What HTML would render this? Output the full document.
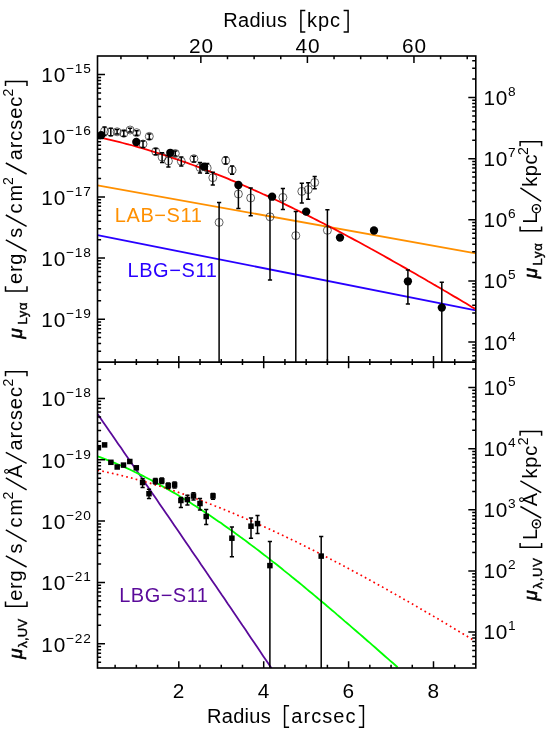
<!DOCTYPE html>
<html><head><meta charset="utf-8"><title>Surface brightness profiles</title>
<style>html,body{margin:0;padding:0;background:#fff}body{width:554px;height:738px;overflow:hidden}</style></head>
<body>
<svg width="554" height="738" viewBox="0 0 554 738" style="display:block;font-family:'Liberation Sans', sans-serif;will-change:transform">
<rect width="554" height="738" fill="#fff"/>
<defs><clipPath id="c1"><rect x="97.5" y="56.0" width="378.3" height="306.1"/></clipPath><clipPath id="c2"><rect x="97.5" y="362.1" width="378.3" height="305.9"/></clipPath></defs>
<g clip-path="url(#c1)" fill="none" stroke-width="1.8">
<line x1="97.5" y1="185.4" x2="475.8" y2="253.3" stroke="#ff9000"/>
<line x1="97.5" y1="235.2" x2="475.8" y2="310.3" stroke="#2800ff"/>
<path d="M97.5,137.0 L100.7,137.6 L103.9,138.4 L107.0,139.1 L110.2,139.8 L113.4,140.6 L116.6,141.4 L119.8,142.2 L122.9,143.0 L126.1,143.8 L129.3,144.7 L132.5,145.5 L135.6,146.4 L138.8,147.3 L142.0,148.2 L145.2,149.2 L148.4,150.1 L151.5,151.1 L154.7,152.1 L157.9,153.1 L161.1,154.1 L164.3,155.1 L167.4,156.1 L170.6,157.2 L173.8,158.3 L177.0,159.4 L180.2,160.5 L183.3,161.6 L186.5,162.7 L189.7,163.9 L192.9,165.0 L196.0,166.2 L199.2,167.4 L202.4,168.6 L205.6,169.8 L208.8,171.1 L211.9,172.3 L215.1,173.6 L218.3,174.8 L221.5,176.1 L224.7,177.4 L227.8,178.7 L231.0,180.1 L234.2,181.4 L237.4,182.7 L240.6,184.1 L243.7,185.5 L246.9,186.9 L250.1,188.3 L253.3,189.7 L256.4,191.1 L259.6,192.5 L262.8,194.0 L266.0,195.4 L269.2,196.9 L272.3,198.3 L275.5,199.8 L278.7,201.3 L281.9,202.8 L285.1,204.4 L288.2,205.9 L291.4,207.4 L294.6,209.0 L297.8,210.5 L301.0,212.1 L304.1,213.7 L307.3,215.3 L310.5,216.9 L313.7,218.5 L316.9,220.1 L320.0,221.7 L323.2,223.3 L326.4,225.0 L329.6,226.6 L332.7,228.3 L335.9,229.9 L339.1,231.6 L342.3,233.3 L345.5,235.0 L348.6,236.7 L351.8,238.4 L355.0,240.1 L358.2,241.8 L361.4,243.5 L364.5,245.3 L367.7,247.0 L370.9,248.8 L374.1,250.5 L377.3,252.3 L380.4,254.0 L383.6,255.8 L386.8,257.6 L390.0,259.4 L393.1,261.2 L396.3,263.0 L399.5,264.8 L402.7,266.6 L405.9,268.4 L409.0,270.2 L412.2,272.0 L415.4,273.8 L418.6,275.7 L421.8,277.5 L424.9,279.3 L428.1,281.2 L431.3,283.0 L434.5,284.9 L437.7,286.7 L440.8,288.6 L444.0,290.5 L447.2,292.3 L450.4,294.2 L453.5,296.1 L456.7,297.9 L459.9,299.8 L463.1,301.7 L466.3,303.6 L469.4,305.5 L472.6,307.4 L475.8,309.2" stroke="#ff0000"/>
</g>
<g clip-path="url(#c1)">
<g stroke="#000" stroke-width="1.5" fill="none">
<line x1="104.5" y1="127" x2="104.5" y2="135.5"/><line x1="102.4" y1="127" x2="106.6" y2="127"/><line x1="102.4" y1="135.5" x2="106.6" y2="135.5"/>
<line x1="110.8" y1="128.3" x2="110.8" y2="135.8"/><line x1="108.7" y1="128.3" x2="112.89999999999999" y2="128.3"/><line x1="108.7" y1="135.8" x2="112.89999999999999" y2="135.8"/>
<line x1="117.1" y1="129.5" x2="117.1" y2="134"/><line x1="115.0" y1="129.5" x2="119.19999999999999" y2="129.5"/><line x1="115.0" y1="134" x2="119.19999999999999" y2="134"/>
<line x1="123.8" y1="130.8" x2="123.8" y2="136.2"/><line x1="121.7" y1="130.8" x2="125.89999999999999" y2="130.8"/><line x1="121.7" y1="136.2" x2="125.89999999999999" y2="136.2"/>
<line x1="130.1" y1="128.3" x2="130.1" y2="132"/><line x1="128.0" y1="128.3" x2="132.2" y2="128.3"/><line x1="128.0" y1="132" x2="132.2" y2="132"/>
<line x1="136.6" y1="130.8" x2="136.6" y2="135.2"/><line x1="134.5" y1="130.8" x2="138.7" y2="130.8"/><line x1="134.5" y1="135.2" x2="138.7" y2="135.2"/>
<line x1="143" y1="140.9" x2="143" y2="147.6"/><line x1="140.9" y1="140.9" x2="145.1" y2="140.9"/><line x1="140.9" y1="147.6" x2="145.1" y2="147.6"/>
<line x1="149.3" y1="134" x2="149.3" y2="139.3"/><line x1="147.20000000000002" y1="134" x2="151.4" y2="134"/><line x1="147.20000000000002" y1="139.3" x2="151.4" y2="139.3"/>
<line x1="155.7" y1="148.5" x2="155.7" y2="154.8"/><line x1="153.6" y1="148.5" x2="157.79999999999998" y2="148.5"/><line x1="153.6" y1="154.8" x2="157.79999999999998" y2="154.8"/>
<line x1="162.1" y1="152.8" x2="162.1" y2="162.4"/><line x1="160.0" y1="152.8" x2="164.2" y2="152.8"/><line x1="160.0" y1="162.4" x2="164.2" y2="162.4"/>
<line x1="168.4" y1="155.3" x2="168.4" y2="167"/><line x1="166.3" y1="155.3" x2="170.5" y2="155.3"/><line x1="166.3" y1="167" x2="170.5" y2="167"/>
<line x1="175.3" y1="151" x2="175.3" y2="156"/><line x1="173.20000000000002" y1="151" x2="177.4" y2="151"/><line x1="173.20000000000002" y1="156" x2="177.4" y2="156"/>
<line x1="181.3" y1="157.1" x2="181.3" y2="166.1"/><line x1="179.20000000000002" y1="157.1" x2="183.4" y2="157.1"/><line x1="179.20000000000002" y1="166.1" x2="183.4" y2="166.1"/>
<line x1="193.9" y1="156.2" x2="193.9" y2="162.1"/><line x1="191.8" y1="156.2" x2="196.0" y2="156.2"/><line x1="191.8" y1="162.1" x2="196.0" y2="162.1"/>
<line x1="200" y1="162.5" x2="200" y2="173"/><line x1="197.9" y1="162.5" x2="202.1" y2="162.5"/><line x1="197.9" y1="173" x2="202.1" y2="173"/>
<line x1="207.2" y1="163.4" x2="207.2" y2="173.3"/><line x1="205.1" y1="163.4" x2="209.29999999999998" y2="163.4"/><line x1="205.1" y1="173.3" x2="209.29999999999998" y2="173.3"/>
<line x1="212.8" y1="172.3" x2="212.8" y2="185"/><line x1="210.70000000000002" y1="172.3" x2="214.9" y2="172.3"/><line x1="210.70000000000002" y1="185" x2="214.9" y2="185"/>
<line x1="219.1" y1="202.6" x2="219.1" y2="362.1"/><line x1="217.0" y1="202.6" x2="221.2" y2="202.6"/>
<line x1="225.7" y1="157.1" x2="225.7" y2="163.9"/><line x1="223.6" y1="157.1" x2="227.79999999999998" y2="157.1"/><line x1="223.6" y1="163.9" x2="227.79999999999998" y2="163.9"/>
<line x1="232.1" y1="166.1" x2="232.1" y2="174.2"/><line x1="230.0" y1="166.1" x2="234.2" y2="166.1"/><line x1="230.0" y1="174.2" x2="234.2" y2="174.2"/>
<line x1="238.4" y1="186" x2="238.4" y2="208.6"/><line x1="236.3" y1="186" x2="240.5" y2="186"/><line x1="236.3" y1="208.6" x2="240.5" y2="208.6"/>
<line x1="250.7" y1="187.9" x2="250.7" y2="215.7"/><line x1="248.6" y1="187.9" x2="252.79999999999998" y2="187.9"/><line x1="248.6" y1="215.7" x2="252.79999999999998" y2="215.7"/>
<line x1="270" y1="196" x2="270" y2="280"/><line x1="267.9" y1="196" x2="272.1" y2="196"/><line x1="267.9" y1="280" x2="272.1" y2="280"/>
<line x1="282.9" y1="188.6" x2="282.9" y2="209.4"/><line x1="280.79999999999995" y1="188.6" x2="285.0" y2="188.6"/><line x1="280.79999999999995" y1="209.4" x2="285.0" y2="209.4"/>
<line x1="295.8" y1="211.4" x2="295.8" y2="362.1"/><line x1="293.7" y1="211.4" x2="297.90000000000003" y2="211.4"/>
<line x1="301.8" y1="183.3" x2="301.8" y2="203.1"/><line x1="299.7" y1="183.3" x2="303.90000000000003" y2="183.3"/><line x1="299.7" y1="203.1" x2="303.90000000000003" y2="203.1"/>
<line x1="308.2" y1="182.8" x2="308.2" y2="199.2"/><line x1="306.09999999999997" y1="182.8" x2="310.3" y2="182.8"/><line x1="306.09999999999997" y1="199.2" x2="310.3" y2="199.2"/>
<line x1="314.7" y1="176.5" x2="314.7" y2="188.8"/><line x1="312.59999999999997" y1="176.5" x2="316.8" y2="176.5"/><line x1="312.59999999999997" y1="188.8" x2="316.8" y2="188.8"/>
<line x1="327.4" y1="209.8" x2="327.4" y2="362.1"/><line x1="325.29999999999995" y1="209.8" x2="329.5" y2="209.8"/>









<line x1="407.9" y1="269.9" x2="407.9" y2="304"/><line x1="405.79999999999995" y1="269.9" x2="410.0" y2="269.9"/><line x1="405.79999999999995" y1="304" x2="410.0" y2="304"/>
<line x1="441.8" y1="282.3" x2="441.8" y2="362.1"/><line x1="439.7" y1="282.3" x2="443.90000000000003" y2="282.3"/>
</g>
<g stroke="#111" stroke-width="0.65" fill="none">
<circle cx="104.5" cy="131.2" r="4.0"/>
<circle cx="110.8" cy="132.1" r="4.0"/>
<circle cx="117.1" cy="131.8" r="4.0"/>
<circle cx="123.8" cy="133.3" r="4.0"/>
<circle cx="130.1" cy="130.0" r="4.0"/>
<circle cx="136.6" cy="132.7" r="4.0"/>
<circle cx="143" cy="144.0" r="4.0"/>
<circle cx="149.3" cy="136.4" r="4.0"/>
<circle cx="155.7" cy="151.5" r="4.0"/>
<circle cx="162.1" cy="157.1" r="4.0"/>
<circle cx="168.4" cy="161" r="4.0"/>
<circle cx="175.3" cy="153.5" r="4.0"/>
<circle cx="181.3" cy="161.3" r="4.0"/>
<circle cx="193.9" cy="158.7" r="4.0"/>
<circle cx="200" cy="167.5" r="4.0"/>
<circle cx="207.2" cy="168" r="4.0"/>
<circle cx="212.8" cy="177.7" r="4.0"/>
<circle cx="219.1" cy="222.4" r="4.0"/>
<circle cx="225.7" cy="160.5" r="4.0"/>
<circle cx="232.1" cy="170" r="4.0"/>
<circle cx="238.4" cy="194" r="4.0"/>
<circle cx="250.7" cy="198" r="4.0"/>
<circle cx="270" cy="216.8" r="4.0"/>
<circle cx="282.9" cy="197.4" r="4.0"/>
<circle cx="295.8" cy="235.6" r="4.0"/>
<circle cx="301.8" cy="191.4" r="4.0"/>
<circle cx="308.2" cy="189.6" r="4.0"/>
<circle cx="314.7" cy="182.5" r="4.0"/>
<circle cx="327.4" cy="230.3" r="4.0"/>
</g><g fill="#000">
<circle cx="101.2" cy="135.2" r="4.15"/>
<circle cx="136.3" cy="142" r="4.15"/>
<circle cx="170.3" cy="152.8" r="4.15"/>
<circle cx="204.1" cy="166.6" r="4.15"/>
<circle cx="238.4" cy="185" r="4.15"/>
<circle cx="272.1" cy="196.7" r="4.15"/>
<circle cx="306.2" cy="211.6" r="4.15"/>
<circle cx="340" cy="237.6" r="4.15"/>
<circle cx="374" cy="230.5" r="4.15"/>
<circle cx="407.9" cy="281.3" r="4.15"/>
<circle cx="441.8" cy="307.6" r="4.15"/>
</g></g>
<g clip-path="url(#c2)" fill="none" stroke-width="1.8">
<path d="M97.5,414.0 L100.5,418.3 L103.4,422.5 L106.4,426.8 L109.3,431.1 L112.3,435.3 L115.2,439.6 L118.2,443.9 L121.2,448.1 L124.1,452.4 L127.1,456.7 L130.0,461.0 L133.0,465.3 L135.9,469.5 L138.9,473.8 L141.9,478.1 L144.8,482.4 L147.8,486.7 L150.7,491.0 L153.7,495.3 L156.7,499.6 L159.6,503.9 L162.6,508.2 L165.5,512.5 L168.5,516.8 L171.4,521.1 L174.4,525.5 L177.4,529.8 L180.3,534.1 L183.3,538.4 L186.2,542.7 L189.2,547.1 L192.1,551.4 L195.1,555.7 L198.1,560.0 L201.0,564.4 L204.0,568.7 L206.9,573.1 L209.9,577.4 L212.8,581.7 L215.8,586.1 L218.8,590.4 L221.7,594.8 L224.7,599.1 L227.6,603.5 L230.6,607.8 L233.6,612.2 L236.5,616.5 L239.5,620.9 L242.4,625.3 L245.4,629.6 L248.3,634.0 L251.3,638.4 L254.3,642.7 L257.2,647.1 L260.2,651.5 L263.1,655.9 L266.1,660.3 L269.0,664.6 L272.0,669.0" stroke="#5a0a9a"/>
<path d="M97.5,456.3 L100.0,457.2 L102.5,458.1 L105.1,459.1 L107.6,460.1 L110.1,461.1 L112.6,462.1 L115.2,463.1 L117.7,464.2 L120.2,465.3 L122.7,466.4 L125.2,467.5 L127.8,468.6 L130.3,469.8 L132.8,471.0 L135.3,472.2 L137.8,473.4 L140.4,474.6 L142.9,475.9 L145.4,477.2 L147.9,478.5 L150.5,479.8 L153.0,481.1 L155.5,482.4 L158.0,483.8 L160.5,485.2 L163.1,486.6 L165.6,488.0 L168.1,489.4 L170.6,490.9 L173.2,492.4 L175.7,493.8 L178.2,495.3 L180.7,496.9 L183.2,498.4 L185.8,499.9 L188.3,501.5 L190.8,503.1 L193.3,504.7 L195.9,506.3 L198.4,507.9 L200.9,509.5 L203.4,511.2 L205.9,512.9 L208.5,514.5 L211.0,516.2 L213.5,517.9 L216.0,519.7 L218.5,521.4 L221.1,523.1 L223.6,524.9 L226.1,526.7 L228.6,528.5 L231.2,530.3 L233.7,532.1 L236.2,533.9 L238.7,535.7 L241.2,537.6 L243.8,539.4 L246.3,541.3 L248.8,543.2 L251.3,545.1 L253.9,547.0 L256.4,548.9 L258.9,550.8 L261.4,552.7 L263.9,554.7 L266.5,556.6 L269.0,558.6 L271.5,560.6 L274.0,562.6 L276.6,564.5 L279.1,566.5 L281.6,568.5 L284.1,570.6 L286.6,572.6 L289.2,574.6 L291.7,576.7 L294.2,578.7 L296.7,580.8 L299.2,582.8 L301.8,584.9 L304.3,587.0 L306.8,589.1 L309.3,591.2 L311.9,593.3 L314.4,595.4 L316.9,597.5 L319.4,599.6 L321.9,601.7 L324.5,603.8 L327.0,606.0 L329.5,608.1 L332.0,610.3 L334.6,612.4 L337.1,614.6 L339.6,616.7 L342.1,618.9 L344.6,621.1 L347.2,623.2 L349.7,625.4 L352.2,627.6 L354.7,629.8 L357.3,632.0 L359.8,634.1 L362.3,636.3 L364.8,638.5 L367.3,640.7 L369.9,642.9 L372.4,645.1 L374.9,647.3 L377.4,649.5 L379.9,651.7 L382.5,654.0 L385.0,656.2 L387.5,658.4 L390.0,660.6 L392.6,662.8 L395.1,665.0 L397.6,667.2" stroke="#00ff00"/>
<path d="M97.5,470.2 L100.7,470.9 L103.9,471.5 L107.0,472.2 L110.2,472.9 L113.4,473.6 L116.6,474.3 L119.8,475.1 L122.9,475.9 L126.1,476.7 L129.3,477.5 L132.5,478.3 L135.7,479.2 L138.8,480.0 L142.0,480.9 L145.2,481.8 L148.4,482.8 L151.6,483.7 L154.8,484.7 L157.9,485.6 L161.1,486.6 L164.3,487.7 L167.5,488.7 L170.7,489.7 L173.8,490.8 L177.0,491.9 L180.2,493.0 L183.4,494.1 L186.6,495.2 L189.7,496.3 L192.9,497.5 L196.1,498.7 L199.3,499.8 L202.5,501.0 L205.6,502.2 L208.8,503.5 L212.0,504.7 L215.2,506.0 L218.4,507.2 L221.5,508.5 L224.7,509.8 L227.9,511.1 L231.1,512.4 L234.3,513.7 L237.4,515.1 L240.6,516.4 L243.8,517.8 L247.0,519.2 L250.2,520.5 L253.4,521.9 L256.5,523.3 L259.7,524.8 L262.9,526.2 L266.1,527.6 L269.3,529.1 L272.4,530.6 L275.6,532.0 L278.8,533.5 L282.0,535.0 L285.2,536.5 L288.3,538.1 L291.5,539.6 L294.7,541.1 L297.9,542.7 L301.1,544.2 L304.2,545.8 L307.4,547.4 L310.6,549.0 L313.8,550.6 L317.0,552.2 L320.1,553.8 L323.3,555.4 L326.5,557.0 L329.7,558.7 L332.9,560.3 L336.1,562.0 L339.2,563.6 L342.4,565.3 L345.6,567.0 L348.8,568.7 L352.0,570.4 L355.1,572.1 L358.3,573.8 L361.5,575.5 L364.7,577.3 L367.9,579.0 L371.0,580.8 L374.2,582.5 L377.4,584.3 L380.6,586.0 L383.8,587.8 L386.9,589.6 L390.1,591.4 L393.3,593.2 L396.5,595.0 L399.7,596.8 L402.8,598.6 L406.0,600.4 L409.2,602.2 L412.4,604.0 L415.6,605.9 L418.7,607.7 L421.9,609.6 L425.1,611.4 L428.3,613.3 L431.5,615.1 L434.7,617.0 L437.8,618.8 L441.0,620.7 L444.2,622.6 L447.4,624.5 L450.6,626.4 L453.7,628.3 L456.9,630.2 L460.1,632.1 L463.3,634.0 L466.5,635.9 L469.6,637.8 L472.8,639.7 L476.0,641.6" stroke="#ff0000" stroke-width="1.7" stroke-dasharray="1.7 3.2"/>
</g>
<g clip-path="url(#c2)">
<g stroke="#000" stroke-width="1.5" fill="none">







<line x1="142.6" y1="478.7" x2="142.6" y2="487.4"/><line x1="140.5" y1="478.7" x2="144.7" y2="478.7"/><line x1="140.5" y1="487.4" x2="144.7" y2="487.4"/>
<line x1="149" y1="489.2" x2="149" y2="498.6"/><line x1="146.9" y1="489.2" x2="151.1" y2="489.2"/><line x1="146.9" y1="498.6" x2="151.1" y2="498.6"/>
<line x1="155.4" y1="478.5" x2="155.4" y2="484"/><line x1="153.3" y1="478.5" x2="157.5" y2="478.5"/><line x1="153.3" y1="484" x2="157.5" y2="484"/>
<line x1="161.8" y1="478" x2="161.8" y2="483.5"/><line x1="159.70000000000002" y1="478" x2="163.9" y2="478"/><line x1="159.70000000000002" y1="483.5" x2="163.9" y2="483.5"/>
<line x1="168.2" y1="483" x2="168.2" y2="488.5"/><line x1="166.1" y1="483" x2="170.29999999999998" y2="483"/><line x1="166.1" y1="488.5" x2="170.29999999999998" y2="488.5"/>
<line x1="174.6" y1="482" x2="174.6" y2="488"/><line x1="172.5" y1="482" x2="176.7" y2="482"/><line x1="172.5" y1="488" x2="176.7" y2="488"/>
<line x1="180.9" y1="497.6" x2="180.9" y2="507.4"/><line x1="178.8" y1="497.6" x2="183.0" y2="497.6"/><line x1="178.8" y1="507.4" x2="183.0" y2="507.4"/>
<line x1="187.4" y1="495.3" x2="187.4" y2="505.1"/><line x1="185.3" y1="495.3" x2="189.5" y2="495.3"/><line x1="185.3" y1="505.1" x2="189.5" y2="505.1"/>
<line x1="193.5" y1="492.7" x2="193.5" y2="499.9"/><line x1="191.4" y1="492.7" x2="195.6" y2="492.7"/><line x1="191.4" y1="499.9" x2="195.6" y2="499.9"/>
<line x1="200" y1="498.6" x2="200" y2="510"/><line x1="197.9" y1="498.6" x2="202.1" y2="498.6"/><line x1="197.9" y1="510" x2="202.1" y2="510"/>
<line x1="206.2" y1="509.6" x2="206.2" y2="524.6"/><line x1="204.1" y1="509.6" x2="208.29999999999998" y2="509.6"/><line x1="204.1" y1="524.6" x2="208.29999999999998" y2="524.6"/>
<line x1="213" y1="493.4" x2="213" y2="499.2"/><line x1="210.9" y1="493.4" x2="215.1" y2="493.4"/><line x1="210.9" y1="499.2" x2="215.1" y2="499.2"/>
<line x1="231.9" y1="526.9" x2="231.9" y2="556.7"/><line x1="229.8" y1="526.9" x2="234.0" y2="526.9"/><line x1="229.8" y1="556.7" x2="234.0" y2="556.7"/>
<line x1="251" y1="518.1" x2="251" y2="538.2"/><line x1="248.9" y1="518.1" x2="253.1" y2="518.1"/><line x1="248.9" y1="538.2" x2="253.1" y2="538.2"/>
<line x1="257.5" y1="515.5" x2="257.5" y2="533.4"/><line x1="255.4" y1="515.5" x2="259.6" y2="515.5"/><line x1="255.4" y1="533.4" x2="259.6" y2="533.4"/>
<line x1="269.9" y1="541.5" x2="269.9" y2="668.0"/><line x1="267.79999999999995" y1="541.5" x2="272.0" y2="541.5"/>
<line x1="321.2" y1="536.6" x2="321.2" y2="668.0"/><line x1="319.09999999999997" y1="536.6" x2="323.3" y2="536.6"/>
</g><g fill="#000">
<rect x="95.65" y="444.95" width="5.5" height="5.5"/>
<rect x="101.85" y="442.15" width="5.5" height="5.5"/>
<rect x="108.15" y="459.55" width="5.5" height="5.5"/>
<rect x="114.45" y="464.25" width="5.5" height="5.5"/>
<rect x="120.75" y="462.35" width="5.5" height="5.5"/>
<rect x="127.05" y="458.75" width="5.5" height="5.5"/>
<rect x="133.55" y="465.05" width="5.5" height="5.5"/>
<rect x="139.85" y="479.75" width="5.5" height="5.5"/>
<rect x="146.25" y="490.95" width="5.5" height="5.5"/>
<rect x="152.65" y="478.45" width="5.5" height="5.5"/>
<rect x="159.05" y="478.05" width="5.5" height="5.5"/>
<rect x="165.45" y="482.95" width="5.5" height="5.5"/>
<rect x="171.85" y="482.15" width="5.5" height="5.5"/>
<rect x="178.15" y="497.75" width="5.5" height="5.5"/>
<rect x="184.65" y="496.75" width="5.5" height="5.5"/>
<rect x="190.75" y="493.25" width="5.5" height="5.5"/>
<rect x="197.25" y="500.75" width="5.5" height="5.5"/>
<rect x="203.45" y="513.75" width="5.5" height="5.5"/>
<rect x="210.25" y="493.25" width="5.5" height="5.5"/>
<rect x="229.15" y="535.45" width="5.5" height="5.5"/>
<rect x="248.25" y="523.45" width="5.5" height="5.5"/>
<rect x="254.75" y="520.85" width="5.5" height="5.5"/>
<rect x="267.15" y="562.85" width="5.5" height="5.5"/>
<rect x="318.45" y="553.35" width="5.5" height="5.5"/>
</g></g>
<g stroke="#000" stroke-width="1.6" fill="none" stroke-linecap="butt">
<rect x="97.5" y="56.0" width="378.3" height="612.0"/>
<line x1="97.5" y1="362.1" x2="475.8" y2="362.1"/>
<path d="M115.12,668.0 v-3.2 M115.12,359.1 v6.0 M136.35,668.0 v-3.2 M136.35,359.1 v6.0 M157.58,668.0 v-3.2 M157.58,359.1 v6.0 M178.80,668.0 v-6.8 M178.80,355.90000000000003 v12.4 M200.03,668.0 v-3.2 M200.03,359.1 v6.0 M221.25,668.0 v-3.2 M221.25,359.1 v6.0 M242.48,668.0 v-3.2 M242.48,359.1 v6.0 M263.70,668.0 v-6.8 M263.70,355.90000000000003 v12.4 M284.93,668.0 v-3.2 M284.93,359.1 v6.0 M306.15,668.0 v-3.2 M306.15,359.1 v6.0 M327.38,668.0 v-3.2 M327.38,359.1 v6.0 M348.60,668.0 v-6.8 M348.60,355.90000000000003 v12.4 M369.83,668.0 v-3.2 M369.83,359.1 v6.0 M391.05,668.0 v-3.2 M391.05,359.1 v6.0 M412.27,668.0 v-3.2 M412.27,359.1 v6.0 M433.50,668.0 v-6.8 M433.50,355.90000000000003 v12.4 M454.73,668.0 v-3.2 M454.73,359.1 v6.0 M120.94,56.0 v3.2 M147.57,56.0 v3.2 M174.21,56.0 v3.2 M200.85,56.0 v6.9 M227.49,56.0 v3.2 M254.12,56.0 v3.2 M280.76,56.0 v3.2 M307.40,56.0 v6.9 M334.04,56.0 v3.2 M360.68,56.0 v3.2 M387.31,56.0 v3.2 M413.95,56.0 v6.9 M440.59,56.0 v3.2 M467.22,56.0 v3.2 M97.5,74.60 h7.5 M97.5,135.75 h7.5 M97.5,117.34 h3.6 M97.5,106.57 h3.6 M97.5,98.93 h3.6 M97.5,93.01 h3.6 M97.5,88.17 h3.6 M97.5,84.07 h3.6 M97.5,80.53 h3.6 M97.5,77.40 h3.6 M97.5,196.90 h7.5 M97.5,178.49 h3.6 M97.5,167.72 h3.6 M97.5,160.08 h3.6 M97.5,154.16 h3.6 M97.5,149.32 h3.6 M97.5,145.22 h3.6 M97.5,141.68 h3.6 M97.5,138.55 h3.6 M97.5,258.05 h7.5 M97.5,239.64 h3.6 M97.5,228.87 h3.6 M97.5,221.23 h3.6 M97.5,215.31 h3.6 M97.5,210.47 h3.6 M97.5,206.37 h3.6 M97.5,202.83 h3.6 M97.5,199.70 h3.6 M97.5,319.20 h7.5 M97.5,300.79 h3.6 M97.5,290.02 h3.6 M97.5,282.38 h3.6 M97.5,276.46 h3.6 M97.5,271.62 h3.6 M97.5,267.52 h3.6 M97.5,263.98 h3.6 M97.5,260.85 h3.6 M97.5,351.17 h3.6 M97.5,343.53 h3.6 M97.5,337.61 h3.6 M97.5,332.77 h3.6 M97.5,328.67 h3.6 M97.5,325.13 h3.6 M97.5,322.00 h3.6 M475.8,97.50 h-7.5 M475.8,79.09 h-3.6 M475.8,68.32 h-3.6 M475.8,60.68 h-3.6 M475.8,158.65 h-7.5 M475.8,140.24 h-3.6 M475.8,129.47 h-3.6 M475.8,121.83 h-3.6 M475.8,115.91 h-3.6 M475.8,111.07 h-3.6 M475.8,106.97 h-3.6 M475.8,103.43 h-3.6 M475.8,100.30 h-3.6 M475.8,219.80 h-7.5 M475.8,201.39 h-3.6 M475.8,190.62 h-3.6 M475.8,182.98 h-3.6 M475.8,177.06 h-3.6 M475.8,172.22 h-3.6 M475.8,168.12 h-3.6 M475.8,164.58 h-3.6 M475.8,161.45 h-3.6 M475.8,280.95 h-7.5 M475.8,262.54 h-3.6 M475.8,251.77 h-3.6 M475.8,244.13 h-3.6 M475.8,238.21 h-3.6 M475.8,233.37 h-3.6 M475.8,229.27 h-3.6 M475.8,225.73 h-3.6 M475.8,222.60 h-3.6 M475.8,342.10 h-7.5 M475.8,323.69 h-3.6 M475.8,312.92 h-3.6 M475.8,305.28 h-3.6 M475.8,299.36 h-3.6 M475.8,294.52 h-3.6 M475.8,290.42 h-3.6 M475.8,286.88 h-3.6 M475.8,283.75 h-3.6 M475.8,360.51 h-3.6 M475.8,355.67 h-3.6 M475.8,351.57 h-3.6 M475.8,348.03 h-3.6 M475.8,344.90 h-3.6 M97.5,398.50 h7.5 M97.5,380.05 h3.6 M97.5,369.25 h3.6 M97.5,459.80 h7.5 M97.5,441.35 h3.6 M97.5,430.55 h3.6 M97.5,422.89 h3.6 M97.5,416.95 h3.6 M97.5,412.10 h3.6 M97.5,408.00 h3.6 M97.5,404.44 h3.6 M97.5,401.30 h3.6 M97.5,521.10 h7.5 M97.5,502.65 h3.6 M97.5,491.85 h3.6 M97.5,484.19 h3.6 M97.5,478.25 h3.6 M97.5,473.40 h3.6 M97.5,469.30 h3.6 M97.5,465.74 h3.6 M97.5,462.60 h3.6 M97.5,582.40 h7.5 M97.5,563.95 h3.6 M97.5,553.15 h3.6 M97.5,545.49 h3.6 M97.5,539.55 h3.6 M97.5,534.70 h3.6 M97.5,530.60 h3.6 M97.5,527.04 h3.6 M97.5,523.90 h3.6 M97.5,643.70 h7.5 M97.5,625.25 h3.6 M97.5,614.45 h3.6 M97.5,606.79 h3.6 M97.5,600.85 h3.6 M97.5,596.00 h3.6 M97.5,591.90 h3.6 M97.5,588.34 h3.6 M97.5,585.20 h3.6 M97.5,662.15 h3.6 M97.5,657.30 h3.6 M97.5,653.20 h3.6 M97.5,649.64 h3.6 M97.5,646.50 h3.6 M475.8,387.50 h-7.5 M475.8,369.09 h-3.6 M475.8,448.65 h-7.5 M475.8,430.24 h-3.6 M475.8,419.47 h-3.6 M475.8,411.83 h-3.6 M475.8,405.91 h-3.6 M475.8,401.07 h-3.6 M475.8,396.97 h-3.6 M475.8,393.43 h-3.6 M475.8,390.30 h-3.6 M475.8,509.80 h-7.5 M475.8,491.39 h-3.6 M475.8,480.62 h-3.6 M475.8,472.98 h-3.6 M475.8,467.06 h-3.6 M475.8,462.22 h-3.6 M475.8,458.12 h-3.6 M475.8,454.58 h-3.6 M475.8,451.45 h-3.6 M475.8,570.95 h-7.5 M475.8,552.54 h-3.6 M475.8,541.77 h-3.6 M475.8,534.13 h-3.6 M475.8,528.21 h-3.6 M475.8,523.37 h-3.6 M475.8,519.27 h-3.6 M475.8,515.73 h-3.6 M475.8,512.60 h-3.6 M475.8,632.10 h-7.5 M475.8,613.69 h-3.6 M475.8,602.92 h-3.6 M475.8,595.28 h-3.6 M475.8,589.36 h-3.6 M475.8,584.52 h-3.6 M475.8,580.42 h-3.6 M475.8,576.88 h-3.6 M475.8,573.75 h-3.6 M475.8,664.07 h-3.6 M475.8,656.43 h-3.6 M475.8,650.51 h-3.6 M475.8,645.67 h-3.6 M475.8,641.57 h-3.6 M475.8,638.03 h-3.6 M475.8,634.90 h-3.6" stroke-width="1.5"/>
</g>
<g fill="#000">
<text x="200.95" y="53.0" font-size="20.8" text-anchor="middle" letter-spacing="0.9" dx="0.45">20</text>
<text x="307.5" y="53.0" font-size="20.8" text-anchor="middle" letter-spacing="0.9" dx="0.45">40</text>
<text x="414.05" y="53.0" font-size="20.8" text-anchor="middle" letter-spacing="0.9" dx="0.45">60</text>
<text x="178.60000000000002" y="697.6" font-size="20.8" text-anchor="middle" >2</text>
<text x="263.50000000000006" y="697.6" font-size="20.8" text-anchor="middle" >4</text>
<text x="348.40000000000003" y="697.6" font-size="20.8" text-anchor="middle" >6</text>
<text x="433.3" y="697.6" font-size="20.8" text-anchor="middle" >8</text>
<text x="41.2" y="82.4" font-size="20.8" letter-spacing="0.9">10<tspan font-size="13.7" dy="-9.0" dx="-0.4" letter-spacing="1.0">&#8722;15</tspan></text>
<text x="41.2" y="143.6" font-size="20.8" letter-spacing="0.9">10<tspan font-size="13.7" dy="-9.0" dx="-0.4" letter-spacing="1.0">&#8722;16</tspan></text>
<text x="41.2" y="204.7" font-size="20.8" letter-spacing="0.9">10<tspan font-size="13.7" dy="-9.0" dx="-0.4" letter-spacing="1.0">&#8722;17</tspan></text>
<text x="41.2" y="265.8" font-size="20.8" letter-spacing="0.9">10<tspan font-size="13.7" dy="-9.0" dx="-0.4" letter-spacing="1.0">&#8722;18</tspan></text>
<text x="41.2" y="327.0" font-size="20.8" letter-spacing="0.9">10<tspan font-size="13.7" dy="-9.0" dx="-0.4" letter-spacing="1.0">&#8722;19</tspan></text>
<text x="41.2" y="406.3" font-size="20.8" letter-spacing="0.9">10<tspan font-size="13.7" dy="-9.0" dx="-0.4" letter-spacing="1.0">&#8722;18</tspan></text>
<text x="41.2" y="467.6" font-size="20.8" letter-spacing="0.9">10<tspan font-size="13.7" dy="-9.0" dx="-0.4" letter-spacing="1.0">&#8722;19</tspan></text>
<text x="41.2" y="528.9" font-size="20.8" letter-spacing="0.9">10<tspan font-size="13.7" dy="-9.0" dx="-0.4" letter-spacing="1.0">&#8722;20</tspan></text>
<text x="41.2" y="590.2" font-size="20.8" letter-spacing="0.9">10<tspan font-size="13.7" dy="-9.0" dx="-0.4" letter-spacing="1.0">&#8722;21</tspan></text>
<text x="41.2" y="651.5" font-size="20.8" letter-spacing="0.9">10<tspan font-size="13.7" dy="-9.0" dx="-0.4" letter-spacing="1.0">&#8722;22</tspan></text>
<text x="483.4" y="105.0" font-size="20.8" letter-spacing="0.9">10<tspan font-size="13.7" dy="-9.0" dx="-0.4">8</tspan></text>
<text x="483.4" y="166.2" font-size="20.8" letter-spacing="0.9">10<tspan font-size="13.7" dy="-9.0" dx="-0.4">7</tspan></text>
<text x="483.4" y="227.3" font-size="20.8" letter-spacing="0.9">10<tspan font-size="13.7" dy="-9.0" dx="-0.4">6</tspan></text>
<text x="483.4" y="288.4" font-size="20.8" letter-spacing="0.9">10<tspan font-size="13.7" dy="-9.0" dx="-0.4">5</tspan></text>
<text x="483.4" y="349.6" font-size="20.8" letter-spacing="0.9">10<tspan font-size="13.7" dy="-9.0" dx="-0.4">4</tspan></text>
<text x="483.4" y="394.7" font-size="20.8" letter-spacing="0.9">10<tspan font-size="13.7" dy="-9.0" dx="-0.4">5</tspan></text>
<text x="483.4" y="455.8" font-size="20.8" letter-spacing="0.9">10<tspan font-size="13.7" dy="-9.0" dx="-0.4">4</tspan></text>
<text x="483.4" y="517.0" font-size="20.8" letter-spacing="0.9">10<tspan font-size="13.7" dy="-9.0" dx="-0.4">3</tspan></text>
<text x="483.4" y="578.2" font-size="20.8" letter-spacing="0.9">10<tspan font-size="13.7" dy="-9.0" dx="-0.4">2</tspan></text>
<text x="483.4" y="639.3" font-size="20.8" letter-spacing="0.9">10<tspan font-size="13.7" dy="-9.0" dx="-0.4">1</tspan></text>
</g>
<g transform="translate(0,27.3)" fill="#000"><text x="223.3" y="0" font-size="20" textLength="63.6" lengthAdjust="spacing" >Radius</text><path d="M305.3,-16.9 H300.9 V4.6 H305.3" fill="none" stroke="#000" stroke-width="1.5"/><text x="307.0" y="0" font-size="20" textLength="33.0" lengthAdjust="spacing" >kpc</text><path d="M343.6,-16.9 H348.1 V4.6 H343.6" fill="none" stroke="#000" stroke-width="1.5"/></g>
<g transform="translate(0,722.6)" fill="#000"><text x="207.0" y="0" font-size="20" textLength="63.8" lengthAdjust="spacing" >Radius</text><path d="M289.1,-16.9 H284.6 V4.6 H289.1" fill="none" stroke="#000" stroke-width="1.5"/><text x="291.3" y="0" font-size="20" textLength="64.2" lengthAdjust="spacing" >arcsec</text><path d="M358.8,-16.9 H363.4 V4.6 H358.8" fill="none" stroke="#000" stroke-width="1.5"/></g>
<g transform="translate(22.4,340) rotate(-90)" fill="#000"><text x="1.6" y="0" font-size="18.6" font-style="italic" stroke="#000" stroke-width="0.6">&#956;</text><text x="15.5" y="4.8" font-size="13" textLength="22.0" lengthAdjust="spacing" stroke="#000" stroke-width="0.4">Ly&#945;</text><path d="M53.7,-16.9 H49.1 V4.6 H53.7" fill="none" stroke="#000" stroke-width="1.5"/><text x="56.0" y="0" font-size="20" textLength="30.5" lengthAdjust="spacing" >erg</text><line x1="89.0" y1="4.2" x2="100.1" y2="-16.6" stroke="#000" stroke-width="1.5"/><text x="102.2" y="0" font-size="20" textLength="9.2" lengthAdjust="spacing" >s</text><line x1="113.7" y1="4.2" x2="125.0" y2="-16.6" stroke="#000" stroke-width="1.5"/><text x="126.6" y="0" font-size="20" textLength="28.7" lengthAdjust="spacing" >cm</text><text x="155.1" y="-9.3" font-size="14" textLength="8.5" lengthAdjust="spacing" >2</text><line x1="166.0" y1="4.2" x2="177.0" y2="-16.6" stroke="#000" stroke-width="1.5"/><text x="179.7" y="0" font-size="20" textLength="63.5" lengthAdjust="spacing" >arcsec</text><text x="243.6" y="-9.3" font-size="14" textLength="8.4" lengthAdjust="spacing" >2</text><path d="M254.0,-16.9 H258.4 V4.6 H254.0" fill="none" stroke="#000" stroke-width="1.5"/></g>
<g transform="translate(22.4,660.3) rotate(-90)" fill="#000"><text x="1.6" y="0" font-size="18.6" font-style="italic" stroke="#000" stroke-width="0.6">&#956;</text><text x="12.5" y="4.8" font-size="13" textLength="29.0" lengthAdjust="spacing" stroke="#000" stroke-width="0.4">&#955;,UV</text><path d="M58.7,-16.9 H54.1 V4.6 H58.7" fill="none" stroke="#000" stroke-width="1.5"/><text x="59.5" y="0" font-size="20" textLength="30.5" lengthAdjust="spacing" >erg</text><line x1="93.3" y1="4.2" x2="104.5" y2="-16.6" stroke="#000" stroke-width="1.5"/><text x="106.7" y="0" font-size="20" textLength="9.4" lengthAdjust="spacing" >s</text><line x1="118.6" y1="4.2" x2="130.5" y2="-16.6" stroke="#000" stroke-width="1.5"/><text x="132.7" y="0" font-size="20" textLength="28.6" lengthAdjust="spacing" >cm</text><text x="160.8" y="-9.3" font-size="14" textLength="8.3" lengthAdjust="spacing" >2</text><line x1="170.4" y1="4.2" x2="182.4" y2="-16.6" stroke="#000" stroke-width="1.5"/><text x="182.3" y="0" font-size="20" textLength="13.2" lengthAdjust="spacing" >&#197;</text><line x1="196.9" y1="4.2" x2="208.0" y2="-16.6" stroke="#000" stroke-width="1.5"/><text x="209.8" y="0" font-size="20" textLength="63.4" lengthAdjust="spacing" >arcsec</text><text x="273.8" y="-9.3" font-size="14" textLength="8.3" lengthAdjust="spacing" >2</text><path d="M284.1,-16.9 H288.6 V4.6 H284.1" fill="none" stroke="#000" stroke-width="1.5"/></g>
<g transform="translate(537,279.8) rotate(-90)" fill="#000"><text x="1.6" y="0" font-size="18.6" font-style="italic" stroke="#000" stroke-width="0.6">&#956;</text><text x="14.4" y="4.8" font-size="13" textLength="22.1" lengthAdjust="spacing" stroke="#000" stroke-width="0.4">Ly&#945;</text><path d="M53.4,-16.9 H49.0 V4.6 H53.4" fill="none" stroke="#000" stroke-width="1.5"/><text x="56.1" y="0" font-size="20" textLength="9.9" lengthAdjust="spacing" >L</text><circle cx="71.1" cy="-0.6" r="4.1" fill="none" stroke="#000" stroke-width="1.3"/><circle cx="71.1" cy="-0.6" r="1.3" fill="#000"/><line x1="78.5" y1="4.2" x2="92.0" y2="-16.6" stroke="#000" stroke-width="1.5"/><text x="93.1" y="0" font-size="20" textLength="32.1" lengthAdjust="spacing" >kpc</text><text x="124.8" y="-9.3" font-size="14" textLength="8.5" lengthAdjust="spacing" >2</text><path d="M133.6,-16.9 H138.1 V4.6 H133.6" fill="none" stroke="#000" stroke-width="1.5"/></g>
<g transform="translate(537,602.2) rotate(-90)" fill="#000"><text x="1.6" y="0" font-size="18.6" font-style="italic" stroke="#000" stroke-width="0.6">&#956;</text><text x="13.5" y="4.8" font-size="13" textLength="30.7" lengthAdjust="spacing" stroke="#000" stroke-width="0.4">&#955;,UV</text><path d="M59.3,-16.9 H54.9 V4.6 H59.3" fill="none" stroke="#000" stroke-width="1.5"/><text x="62.2" y="0" font-size="20" textLength="10.1" lengthAdjust="spacing" >L</text><circle cx="78.3" cy="-0.6" r="4.1" fill="none" stroke="#000" stroke-width="1.3"/><circle cx="78.3" cy="-0.6" r="1.3" fill="#000"/><line x1="84.2" y1="4.2" x2="95.7" y2="-16.6" stroke="#000" stroke-width="1.5"/><text x="95.9" y="0" font-size="20" textLength="13.2" lengthAdjust="spacing" >&#197;</text><line x1="109.5" y1="4.2" x2="121.4" y2="-16.6" stroke="#000" stroke-width="1.5"/><text x="123.7" y="0" font-size="20" textLength="32.8" lengthAdjust="spacing" >kpc</text><text x="156.9" y="-9.3" font-size="14" textLength="8.4" lengthAdjust="spacing" >2</text><path d="M166.4,-16.9 H170.8 V4.6 H166.4" fill="none" stroke="#000" stroke-width="1.5"/></g>
<text x="114.8" y="0" font-size="20" textLength="87.0" lengthAdjust="spacing" fill="#ff9000" transform="translate(0,221.6)">LAB&#8722;S11</text>
<text x="127.4" y="0" font-size="20" textLength="89.5" lengthAdjust="spacing" fill="#2800ff" transform="translate(0,277.2)">LBG&#8722;S11</text>
<text x="119.2" y="0" font-size="20" textLength="88.7" lengthAdjust="spacing" fill="#5a0a9a" transform="translate(0,601.6)">LBG&#8722;S11</text>
</svg>
</body></html>
